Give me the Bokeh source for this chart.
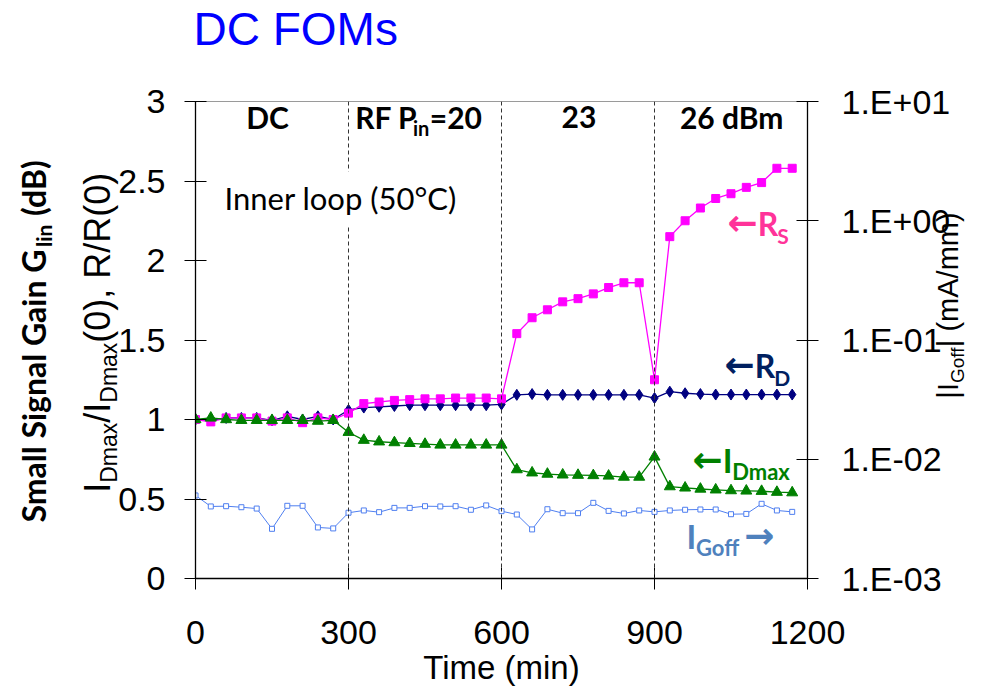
import math
from bokeh.plotting import figure
from bokeh.models import Range1d, LogScale, LogAxis, FixedTicker, Span, Label
from bokeh.core.properties import value
from bokeh.embed import file_html
from bokeh.resources import INLINE

# ---------------- data ----------------
time_min = [0, 30, 60, 90, 120, 150, 180, 210, 240, 270,
            300, 330, 360, 390, 420, 450, 480, 510, 540, 570,
            600, 630, 660, 690, 720, 750, 780, 810, 840, 870,
            900, 930, 960, 990, 1020, 1050, 1080, 1110, 1140, 1170]
rs_ratio = [1.00, 0.985, 1.01, 1.01, 1.01, 0.99, 1.01, 0.98, 1.01, 1.00,
            1.04, 1.10, 1.11, 1.12, 1.125, 1.13, 1.13, 1.135, 1.135, 1.135,
            1.13, 1.54, 1.64, 1.69, 1.74, 1.76, 1.79, 1.83, 1.86, 1.86,
            1.25, 2.15, 2.25, 2.33, 2.39, 2.42, 2.46, 2.49, 2.58, 2.58]
rd_ratio = [1.00, 0.995, 1.01, 1.01, 1.01, 0.995, 1.02, 1.00, 1.02, 1.00,
            1.06, 1.075, 1.08, 1.085, 1.09, 1.09, 1.09, 1.09, 1.09, 1.09,
            1.095, 1.155, 1.16, 1.155, 1.155, 1.155, 1.155, 1.155, 1.155, 1.155,
            1.135, 1.175, 1.165, 1.16, 1.157, 1.157, 1.157, 1.157, 1.157, 1.157]
idmax_ratio = [1.00, 1.01, 1.00, 0.995, 0.995, 0.995, 0.995, 0.995, 0.99, 0.995,
               0.92, 0.87, 0.86, 0.855, 0.85, 0.845, 0.84, 0.84, 0.84, 0.84,
               0.84, 0.685, 0.665, 0.657, 0.652, 0.65, 0.648, 0.645, 0.638, 0.638,
               0.765, 0.578, 0.57, 0.563, 0.558, 0.553, 0.551, 0.549, 0.543, 0.54]
igoff_ma_mm = [4.97e-3, 4.02e-3, 4.04e-3, 3.96e-3, 3.86e-3, 2.61e-3, 4.07e-3, 4.07e-3, 2.68e-3, 2.63e-3,
               3.56e-3, 3.72e-3, 3.60e-3, 3.91e-3, 3.91e-3, 4.04e-3, 4.02e-3, 4.04e-3, 3.77e-3, 4.10e-3,
               3.67e-3, 3.44e-3, 2.58e-3, 3.81e-3, 3.53e-3, 3.53e-3, 4.31e-3, 3.69e-3, 3.51e-3, 3.72e-3,
               3.62e-3, 3.72e-3, 3.77e-3, 3.79e-3, 3.79e-3, 3.46e-3, 3.48e-3, 4.23e-3, 3.72e-3, 3.62e-3]

phase_edges = [0, 300, 600, 900, 1200]
x_ticks = [0, 300, 600, 900, 1200]
left_ticks = [0, 0.5, 1, 1.5, 2, 2.5, 3]
left_tick_labels = ["0", "0.5", "1", "1.5", "2", "2.5", "3"]
right_ticks = [1e-3, 1e-2, 1e-1, 1e0, 1e1]
right_tick_labels = ["1.E-03", "1.E-02", "1.E-01", "1.E+00", "1.E+01"]

# ---------------- geometry ----------------
W, H = 986, 686
BL, BR, BT, BB = 195, 179, 101, 108
XMIN, XMAX, YMIN, YMAX = 0, 1200, 0, 3
FX0, FX1 = BL, W - BR
FY0, FY1 = BT, H - BB


def X(px):
    return XMIN + (px - FX0) * (XMAX - XMIN) / (FX1 - FX0)


def Y(py):
    return YMIN + (FY1 - py) * (YMAX - YMIN) / (FY1 - FY0)


def xpx(t):
    return FX0 + (t - XMIN) * (FX1 - FX0) / (XMAX - XMIN)


ARIAL = {' ': 278, '(': 333, ')': 333, '+': 584, ',': 278, '-': 333, '.': 278, '/': 278,
         '=': 584, 'A': 667, 'B': 667, 'C': 722, 'D': 722, 'E': 667, 'F': 611, 'G': 778,
         'I': 278, 'M': 833, 'O': 778, 'R': 722, 'S': 667, 'T': 611, 'a': 556, 'd': 556,
         'e': 556, 'f': 278, 'g': 556, 'i': 222, 'l': 222, 'm': 833, 'n': 556, 'o': 556,
         'p': 556, 'r': 333, 's': 500, 't': 278, 'x': 500, '|': 260}
CALB = {' ': 226, '(': 312, ')': 312, '=': 498, 'B': 561, 'C': 529, 'D': 630, 'F': 459,
        'G': 637, 'I': 267, 'P': 532, 'R': 563, 'S': 473, 'a': 494, 'd': 537, 'f': 316,
        'g': 474, 'i': 246, 'l': 246, 'm': 813, 'n': 537, 'o': 538, 'x': 474}
CALR = {' ': 226, '(': 303, ')': 303, 'C': 533, 'I': 252, 'e': 498, 'l': 229, 'n': 525,
        'o': 527, 'p': 525, 'r': 349, '°': 342}
LATO_K = 1.08

AR = "Liberation Sans"
LA = "Lato"
DJ = "DejaVu Sans"
# offset between requested anchor and rendered alphabetic baseline (em units)
BASE_K = {AR: 0.36, LA: 0.39, DJ: 0.35}


def tw(s, font, size, bold):
    if font == AR:
        tab, k = ARIAL, 1.0
    elif font == DJ:
        return len(s) * 0.838 * size
    else:
        tab, k = (CALB if bold else CALR), LATO_K
    return sum(tab.get(c, 507 if c.isdigit() else 520) for c in s) / 1000.0 * size * k


p = figure(width=W, height=H, x_range=Range1d(XMIN, XMAX), y_range=Range1d(YMIN, YMAX),
           output_backend="svg", toolbar_location=None,
           min_border_left=BL, min_border_right=BR, min_border_top=BT, min_border_bottom=BB)
p.background_fill_color = "white"
p.border_fill_color = "white"
p.outline_line_color = "#9a9a9a"
p.grid.visible = False

p.extra_y_ranges = {"log": Range1d(1e-3, 1e1)}
p.extra_y_scales = {"log": LogScale()}

xax = p.xaxis[0]
lax = p.yaxis[0]
rax = LogAxis(y_range_name="log", ticker=FixedTicker(ticks=right_ticks))
p.add_layout(rax, "right")

TICKFONT = "34px"
for ax in (xax, lax, rax):
    ax.major_label_text_font = AR
    ax.major_label_text_font_size = TICKFONT
    ax.major_label_text_color = "black"
    ax.axis_line_color = "black"
    ax.axis_line_width = 1.3
    ax.major_tick_line_color = "black"
    ax.major_tick_in = 11
    ax.major_tick_out = 11
    ax.minor_tick_line_color = None

xax.ticker = FixedTicker(ticks=x_ticks)
xax.major_label_standoff = 31
lax.ticker = FixedTicker(ticks=left_ticks)
lax.major_label_overrides = dict(zip(left_ticks, left_tick_labels))
lax.major_label_standoff = 19
rax.major_label_overrides = dict(zip(right_ticks, right_tick_labels))
rax.major_label_standoff = 23

# phase boundaries
for e in phase_edges[1:-1]:
    p.add_layout(Span(location=e, dimension="height", line_color="#333333",
                      line_dash="4 3", line_width=1))

# series
c_ig = "#4F7FF0"
p.line(time_min, igoff_ma_mm, y_range_name="log", line_color=c_ig, line_width=1)
p.scatter(time_min, igoff_ma_mm, y_range_name="log", marker="square", size=5,
          fill_color="white", line_color=c_ig, line_width=1)
p.line(time_min, rd_ratio, line_color="#000080", line_width=1.3)
p.scatter(time_min, rd_ratio, marker="diamond", size=11, color="#000080")
p.line(time_min, rs_ratio, line_color="#FF00FF", line_width=1.3)
p.scatter(time_min, rs_ratio, marker="square", size=8, color="#FF00FF")
p.line(time_min, idmax_ratio, line_color="#008000", line_width=1.3)
p.scatter(time_min, idmax_ratio, marker="triangle", size=11, color="#008000")


def lab(text, px, py, size, font, color, bold=False, rotated=False, align="left",
        outside=False, **kw):
    style = "bold" if bold else "normal"
    k = BASE_K.get(font, 0.37) * size
    if rotated:
        px, angle = px - k, math.pi / 2
    else:
        py, angle = py - k, 0.0
    if outside:
        p.text(x=[X(px)], y=[Y(py)], text=[text], text_font=value(font),
               text_font_size=f"{size}px", text_color=color, text_font_style=style,
               angle=angle, text_align=align, text_baseline="alphabetic", level="overlay")
    else:
        p.add_layout(Label(x=X(px), y=Y(py), text=text, text_font=font,
                           text_font_size=f"{size}px", text_color=color,
                           text_font_style=style, angle=angle,
                           text_align=align, text_baseline="alphabetic", **kw))


def split_lead(t, f, s, b):
    stripped = t.lstrip(" ")
    return stripped, tw(t[:len(t) - len(stripped)], f, s, b)


def rich(pieces, px, py, align="left", outside=False):
    widths = [tw(t, f, s, b) for (t, s, f, b, d, c) in pieces]
    x = px - sum(widths) / 2 if align == "center" else px
    for (t, s, f, b, d, c), w in zip(pieces, widths):
        txt, lead = split_lead(t, f, s, b)
        if txt:
            lab(txt, x + lead, py + d, s, f, c, bold=b, outside=outside)
        x += w


def rich_up(pieces, bx, cy):
    widths = [tw(t, f, s, b) for (t, s, f, b, d, c) in pieces]
    y = cy + sum(widths) / 2
    for (t, s, f, b, d, c), w in zip(pieces, widths):
        txt, lead = split_lead(t, f, s, b)
        if txt:
            lab(txt, bx + d, y - lead, s, f, c, bold=b, rotated=True, outside=True)
        y -= w


# title and x axis title
lab("DC FOMs", 193, 45, 46, AR, "#0000FF", outside=True)
lab("Time (min)", (FX0 + FX1) / 2, 679, 33, AR, "black", align="center", outside=True)

# section labels
SL, SS = 30, 20
mids = [(phase_edges[i] + phase_edges[i + 1]) / 2 for i in range(4)]
rich([("DC", SL, LA, True, 0, "black")], xpx(mids[0]) - 7, 128, "center")
rich([("RF P", SL, LA, True, 0, "black"), ("in", SS, LA, True, 7, "black"),
      ("=20", SL, LA, True, 0, "black")], xpx(mids[1]) - 8, 128, "center")
rich([("23", SL, LA, True, 0, "black")], xpx(mids[2]), 128, "center")
rich([("26 dBm", SL, LA, True, 0, "black")], xpx(mids[3]), 128, "center")

lab("Inner loop (50°C)", 216, 210, 31, LA, "black",
    background_fill_color="white", padding=8)

# series annotations
c_rs, c_rd, c_id, c_igl = "#FF3399", "#002060", "#008000", "#4F81BD"
rich([("←", 36, DJ, True, 0, c_rs), ("R", 32, LA, True, 0, c_rs), ("S", 21, LA, True, 8, c_rs)], 727, 235)
rich([("←", 36, DJ, True, 0, c_rd), ("R", 32, LA, True, 0, c_rd), ("D", 21, LA, True, 8, c_rd)], 724, 377)
rich([("←", 36, DJ, True, 0, c_id), ("I", 33, LA, True, 0, c_id), ("Dmax", 22, LA, True, 8, c_id)], 692, 472)
rich([("I", 33, LA, True, 0, c_igl), ("Goff", 22, LA, True, 8, c_igl), (" ", 22, LA, True, 0, c_igl),
      ("→", 36, DJ, True, 0, c_igl)], 686, 548)

# left axis titles (rotated)
rich_up([("I", 36, AR, False, 0, "black"), ("Dmax", 23, AR, False, 7, "black"),
         ("/", 36, AR, False, 0, "black"), ("I", 36, AR, False, 0, "black"),
         ("Dmax", 23, AR, False, 7, "black"), ("(0), R/R(0)", 36, AR, False, 0, "black")],
        110, 334)
rich_up([("Small Signal Gain G", 32, LA, True, 0, "black"), ("lin", 21, LA, True, 6, "black"),
         (" (dB)", 32, LA, True, 0, "black")], 45, 339)

# right axis title
rich_up([("|I", 29, AR, False, 0, "black"), ("Goff", 19, AR, False, 6, "black"),
         ("| (mA/mm)", 29, AR, False, 0, "black")], 958, 305)

open("out.html", "w").write(file_html(p, INLINE))
